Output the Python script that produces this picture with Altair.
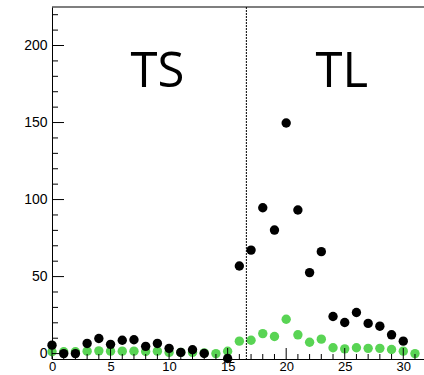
import altair as alt
import pandas as pd

# ---- data ----
bins = list(range(32))
black_vals = [5.5, 0.0, 0.0, 6.6, 9.8, 6.0, 8.7, 9.0, 4.7, 6.6, 3.4, 0.8, 2.5, 0.1, None, -3.2,
              56.9, 67.2, 94.7, 80.2, 149.7, 93.2, 52.6, 66.2, 24.1, 20.2, 26.7, 19.6, 17.8, 12.2, 8.1, None]
green_vals = [1.2, 1.2, 1.2, 1.6, 1.8, 1.6, 1.6, 1.6, 1.4, 1.6, 0.8, 0.8, 0.8, 0.5, 0.0, 1.5,
              8.1, 8.7, 13.0, 11.1, 22.3, 12.2, 7.4, 9.4, 3.8, 3.1, 3.8, 3.4, 3.4, 2.7, 1.6, 0.0]
x_major = [0, 5, 10, 15, 20, 25, 30]
x_minor = [v for v in range(32) if v % 5 != 0]
y_major = [0, 50, 100, 150, 200]
y_minor = [v for v in range(10, 230, 10) if v % 50 != 0]
region_labels = ["TS", "TL"]
divider = 16.6

W, H = 372, 352
XDOM = [0, 31.77]
YDOM = [-3.5, 225]
FONT = "Liberation Sans"

black_df = pd.DataFrame({"x": bins, "y": black_vals}).dropna()
green_df = pd.DataFrame({"x": bins, "y": green_vals})

xs = alt.Scale(domain=XDOM, nice=False, zero=False)
ys = alt.Scale(domain=YDOM, nice=False, zero=False)

x_axis = alt.Axis(values=x_major, ticks=False, grid=False, title=None, domainColor="#000",
                  domainWidth=1, labelFont=FONT, labelFontSize=13, labelColor="#000",
                  labelPadding=1, labelFlush=False, labelOverlap=False)
y_axis = alt.Axis(values=y_major, ticks=False, grid=False, title=None, domainColor="#000",
                  domainWidth=1, labelFont=FONT, labelFontSize=14, labelColor="#000",
                  labelPadding=5, labelFlush=False, labelOverlap=False)


def X(field):
    return alt.X(field, scale=xs, axis=x_axis)


def Y(field):
    return alt.Y(field, scale=ys, axis=y_axis)


green = alt.Chart(green_df).mark_circle(size=88, opacity=1, color="#59d454").encode(
    x=X("x:Q"), y=Y("y:Q"))
black = alt.Chart(black_df).mark_circle(size=88, opacity=1, color="#000000").encode(
    x=X("x:Q"), y=Y("y:Q"))


def yticks(vals, length):
    return alt.Chart(pd.DataFrame({"v": vals})).mark_rule(color="#000", strokeWidth=1).encode(
        y=Y("v:Q"), x=alt.value(0), x2=alt.value(length))


def xticks(vals, length):
    return alt.Chart(pd.DataFrame({"v": vals})).mark_rule(color="#000", strokeWidth=1).encode(
        x=X("v:Q"), y=alt.value(H), y2=alt.value(H - length))


top_line = alt.Chart(pd.DataFrame({"a": [0]})).mark_rule(color="#000", strokeWidth=1.2).encode(
    x=alt.value(0), x2=alt.value(W), y=alt.value(0))

divider_line = alt.Chart(pd.DataFrame({"v": [divider]})).mark_rule(
    color="#000", strokeWidth=1, strokeDash=[2, 1]).encode(
    x=X("v:Q"), y=alt.value(0), y2=alt.value(H))

text_df = pd.DataFrame({"x": [9.0, 24.75], "y": [173, 173], "t": region_labels})
texts = alt.Chart(text_df).mark_text(font="Open Sans", fontSize=49, align="center",
                                     baseline="alphabetic", color="#000").encode(
    x=X("x:Q"), y=Y("y:Q"), text="t:N")

chart = alt.layer(
    green, yticks(y_major, 12), yticks(y_minor, 6), xticks(x_major, 11), xticks(x_minor, 5),
    black, divider_line, top_line, texts,
).properties(
    width=W, height=H,
    padding={"left": 52, "top": 7, "right": 0, "bottom": 16},
    autosize=alt.AutoSizeParams(type="none"),
).configure_view(stroke=None)

chart.save("out.html", embed_options={"renderer": "svg", "actions": False})
